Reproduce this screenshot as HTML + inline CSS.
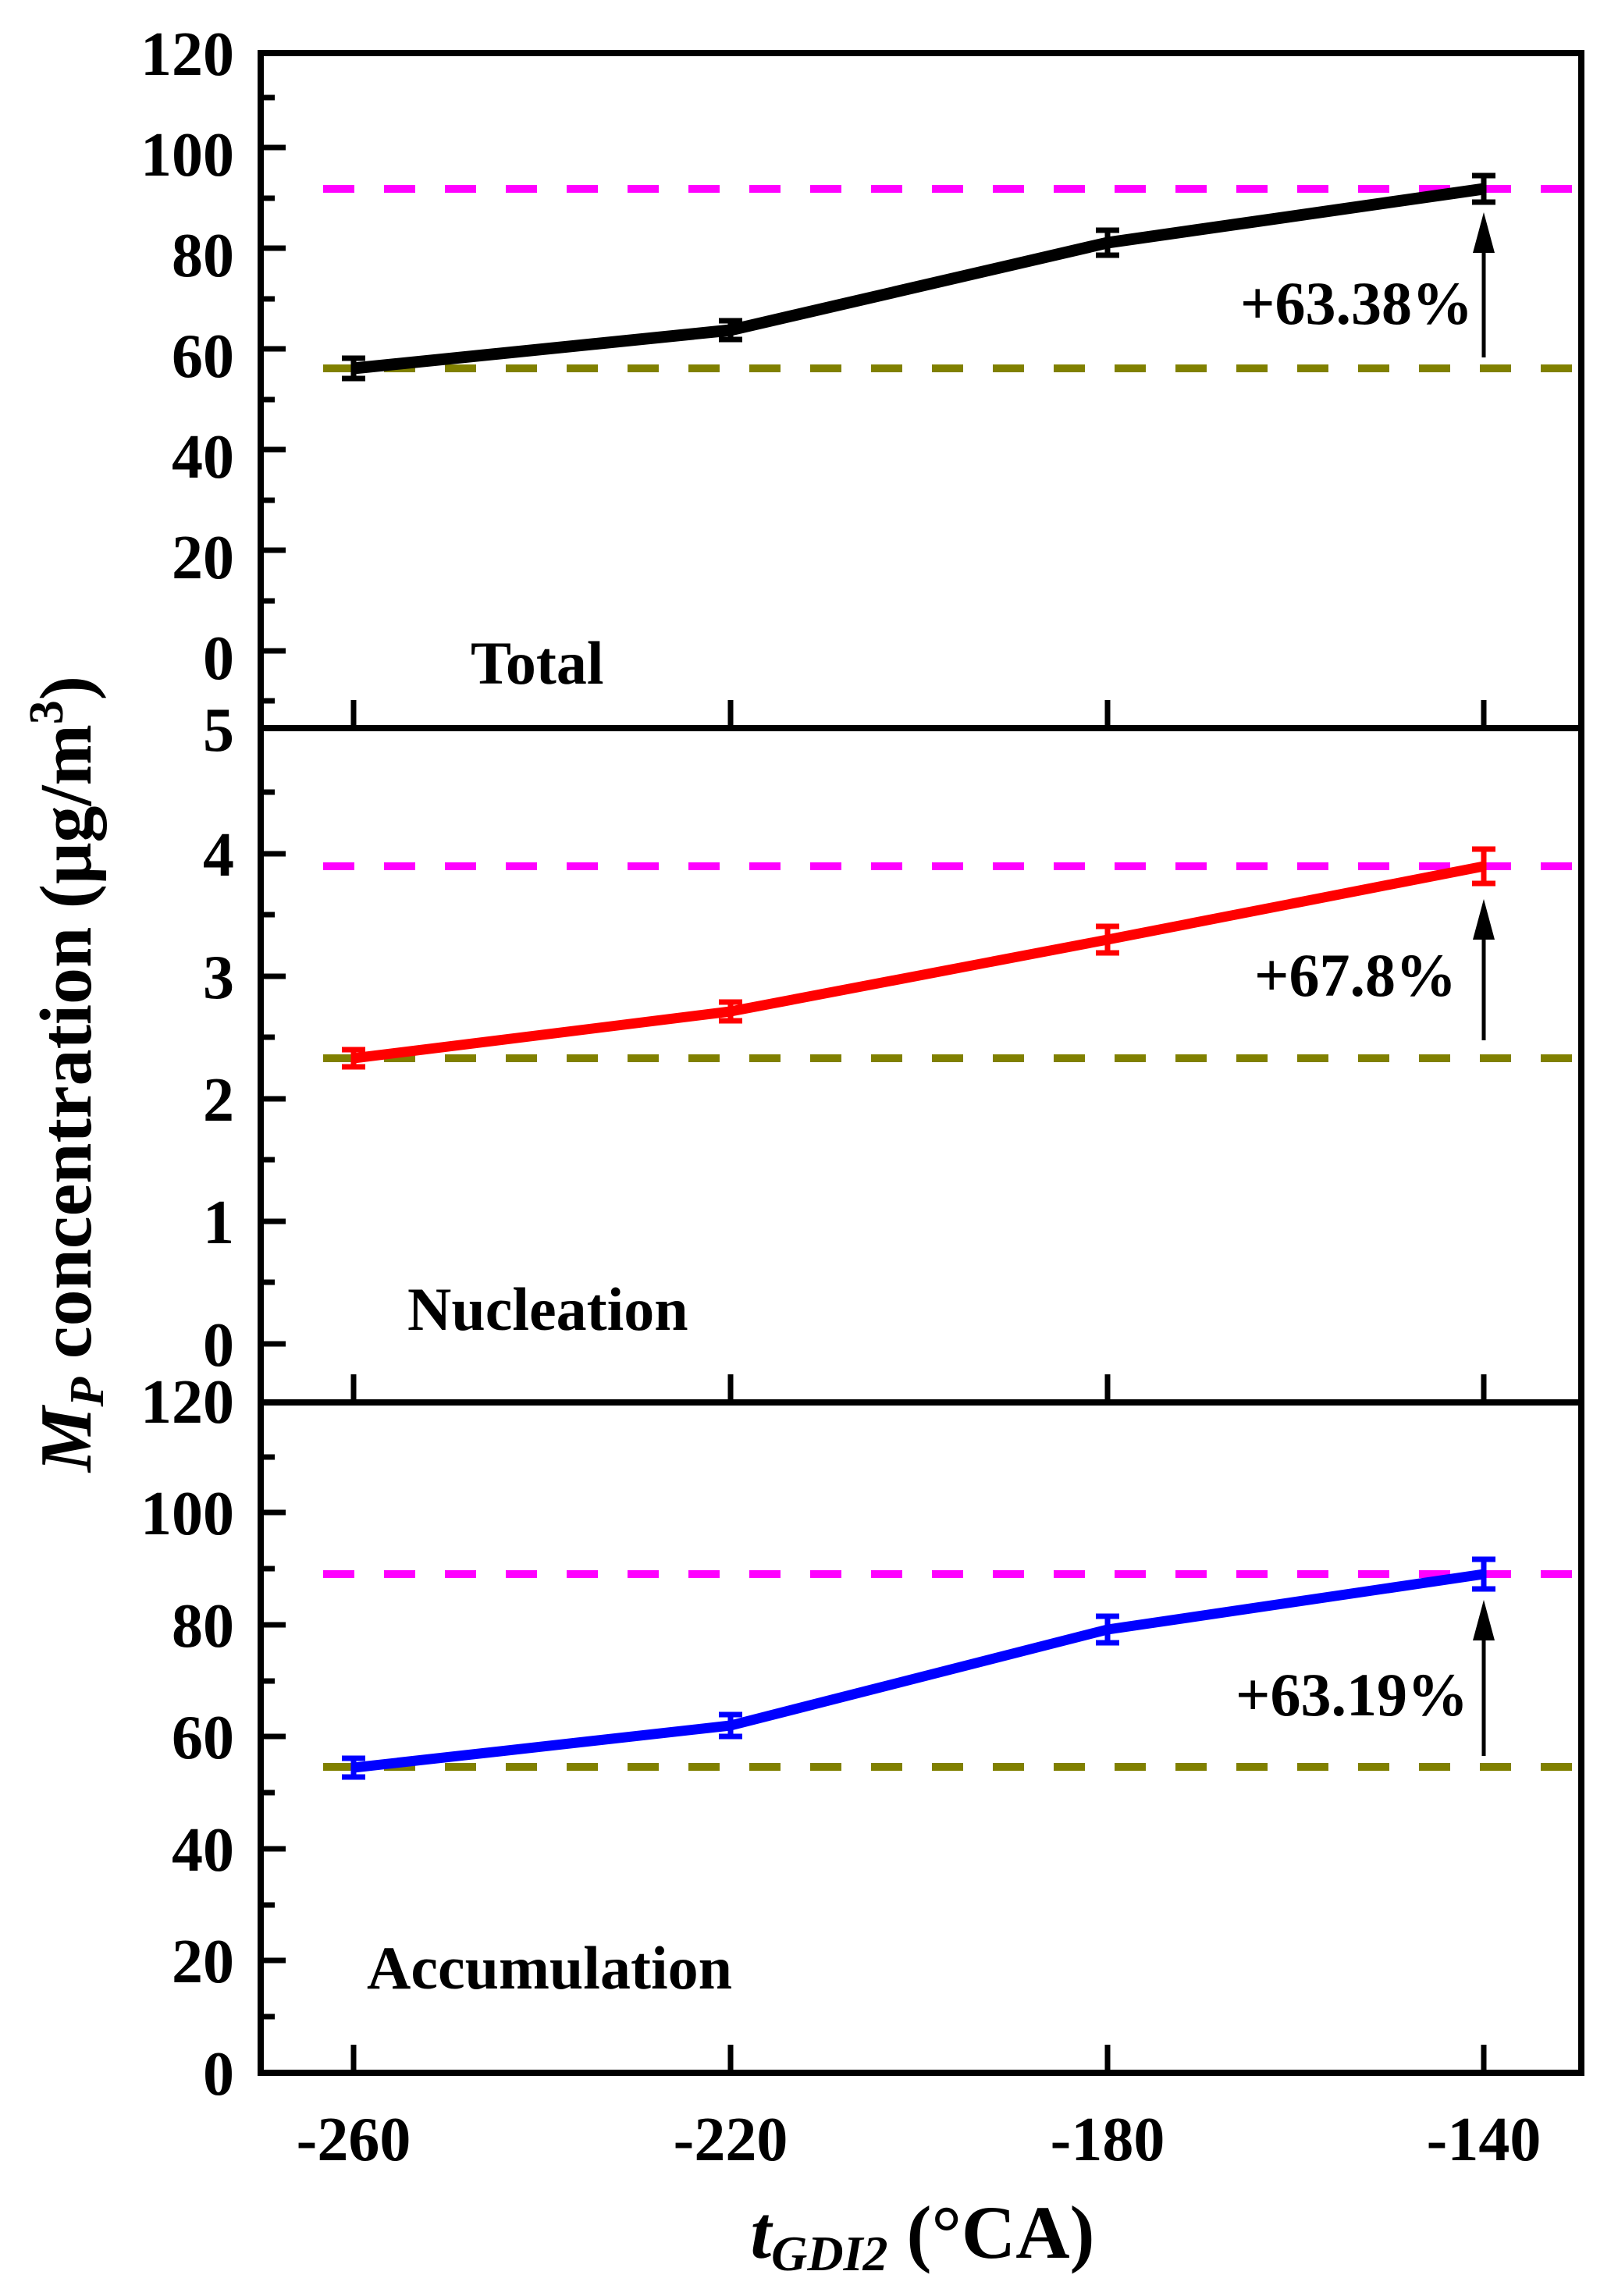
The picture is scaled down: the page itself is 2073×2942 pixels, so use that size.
<!DOCTYPE html>
<html><head><meta charset="utf-8"><style>html,body{margin:0;padding:0;background:#fff}svg{display:block}</style></head>
<body>
<svg width="2073" height="2942" viewBox="0 0 2073 2942" xmlns="http://www.w3.org/2000/svg" font-family="Liberation Serif, serif" font-weight="bold">
<g stroke="#000" stroke-width="8" fill="none">
<rect x="334" y="68" width="1692" height="2588"/>
<line x1="334" y1="933" x2="2026" y2="933"/>
<line x1="334" y1="1797" x2="2026" y2="1797"/>
</g>
<g stroke="#000" stroke-width="7">
<line x1="334" x2="366" y1="834" y2="834"/><line x1="334" x2="366" y1="705" y2="705"/><line x1="334" x2="366" y1="576" y2="576"/><line x1="334" x2="366" y1="447" y2="447"/><line x1="334" x2="366" y1="318" y2="318"/><line x1="334" x2="366" y1="189" y2="189"/>
<line x1="334" x2="352" y1="898" y2="898"/><line x1="334" x2="352" y1="770" y2="770"/><line x1="334" x2="352" y1="641" y2="641"/><line x1="334" x2="352" y1="512" y2="512"/><line x1="334" x2="352" y1="383" y2="383"/><line x1="334" x2="352" y1="254" y2="254"/><line x1="334" x2="352" y1="125" y2="125"/>
<line x1="334" x2="366" y1="1722" y2="1722"/><line x1="334" x2="366" y1="1565" y2="1565"/><line x1="334" x2="366" y1="1408" y2="1408"/><line x1="334" x2="366" y1="1251" y2="1251"/><line x1="334" x2="366" y1="1094" y2="1094"/>
<line x1="334" x2="352" y1="1643" y2="1643"/><line x1="334" x2="352" y1="1486" y2="1486"/><line x1="334" x2="352" y1="1329" y2="1329"/><line x1="334" x2="352" y1="1172" y2="1172"/><line x1="334" x2="352" y1="1015" y2="1015"/>
<line x1="334" x2="366" y1="2512" y2="2512"/><line x1="334" x2="366" y1="2369" y2="2369"/><line x1="334" x2="366" y1="2225" y2="2225"/><line x1="334" x2="366" y1="2082" y2="2082"/><line x1="334" x2="366" y1="1938" y2="1938"/>
<line x1="334" x2="352" y1="2584" y2="2584"/><line x1="334" x2="352" y1="2441" y2="2441"/><line x1="334" x2="352" y1="2297" y2="2297"/><line x1="334" x2="352" y1="2154" y2="2154"/><line x1="334" x2="352" y1="2010" y2="2010"/><line x1="334" x2="352" y1="1867" y2="1867"/>
<line x1="453" x2="453" y1="897" y2="933"/><line x1="936" x2="936" y1="897" y2="933"/><line x1="1419" x2="1419" y1="897" y2="933"/><line x1="1901" x2="1901" y1="897" y2="933"/>
<line x1="453" x2="453" y1="1761" y2="1797"/><line x1="936" x2="936" y1="1761" y2="1797"/><line x1="1419" x2="1419" y1="1761" y2="1797"/><line x1="1901" x2="1901" y1="1761" y2="1797"/>
<line x1="453" x2="453" y1="2620" y2="2656"/><line x1="936" x2="936" y1="2620" y2="2656"/><line x1="1419" x2="1419" y1="2620" y2="2656"/><line x1="1901" x2="1901" y1="2620" y2="2656"/>
</g>
<g stroke-width="10" stroke-dasharray="40 38" fill="none">
<line x1="414" x2="2024" y1="242" y2="242" stroke="#ff00ff"/>
<line x1="414" x2="2024" y1="472" y2="472" stroke="#808000"/>
<line x1="414" x2="2024" y1="1110" y2="1110" stroke="#ff00ff"/>
<line x1="414" x2="2024" y1="1356" y2="1356" stroke="#808000"/>
<line x1="414" x2="2024" y1="2017" y2="2017" stroke="#ff00ff"/>
<line x1="414" x2="2024" y1="2264" y2="2264" stroke="#808000"/>
</g>
<polyline points="453,472 936,423 1419,311 1901,242" stroke="#000" stroke-width="15" fill="none" stroke-linejoin="round"/>
<polyline points="453,1356 936,1296 1419,1204 1901,1110" stroke="#ff0000" stroke-width="13" fill="none" stroke-linejoin="round"/>
<polyline points="453,2265 936,2211 1419,2088 1901,2017" stroke="#0000ff" stroke-width="13" fill="none" stroke-linejoin="round"/>
<g stroke="#000" stroke-width="7" fill="none">
<path d="M453,459V485M438,459H468M438,485H468 M936,411V435M921,411H951M921,435H951 M1419,295V327M1404,295H1434M1404,327H1434 M1901,225V259M1886,225H1916M1886,259H1916"/>
</g>
<g stroke="#ff0000" stroke-width="7" fill="none">
<path d="M453,1345V1367M438,1345H468M438,1367H468 M936,1284V1308M921,1284H951M921,1308H951 M1419,1187V1221M1404,1187H1434M1404,1221H1434 M1901,1088V1132M1886,1088H1916M1886,1132H1916"/>
</g>
<g stroke="#0000ff" stroke-width="7" fill="none">
<path d="M453,2253V2277M438,2253H468M438,2277H468 M936,2197V2225M921,2197H951M921,2225H951 M1419,2071V2105M1404,2071H1434M1404,2105H1434 M1901,1998V2036M1886,1998H1916M1886,2036H1916"/>
</g>
<g stroke="#000" stroke-width="5">
<line x1="1901" x2="1901" y1="458" y2="310"/>
<line x1="1901" x2="1901" y1="1333" y2="1190"/>
<line x1="1901" x2="1901" y1="2250" y2="2090"/>
</g>
<g fill="#000">
<path d="M1887,324 L1901,272 L1915,324Z"/>
<path d="M1887,1204 L1901,1152 L1915,1204Z"/>
<path d="M1887,2102 L1901,2050 L1915,2102Z"/>
</g>
<g font-size="80" text-anchor="end">
<text x="300" y="96">120</text><text x="300" y="225">100</text><text x="300" y="354">80</text><text x="300" y="483">60</text><text x="300" y="612">40</text><text x="300" y="741">20</text><text x="300" y="870">0</text>
<text x="300" y="962">5</text><text x="300" y="1122">4</text><text x="300" y="1279">3</text><text x="300" y="1436">2</text><text x="300" y="1593">1</text><text x="300" y="1750">0</text>
<text x="300" y="1823">120</text><text x="300" y="1966">100</text><text x="300" y="2110">80</text><text x="300" y="2253">60</text><text x="300" y="2397">40</text><text x="300" y="2540">20</text><text x="300" y="2684">0</text>
</g>
<g font-size="80" text-anchor="middle">
<text x="453" y="2768">-260</text><text x="936" y="2768">-220</text><text x="1419" y="2768">-180</text><text x="1901" y="2768">-140</text>
</g>
<g font-size="78">
<text x="603" y="876">Total</text>
<text x="522" y="1704">Nucleation</text>
<text x="470" y="2548">Accumulation</text>
<text x="1589" y="415">+63.38%</text>
<text x="1607" y="1276">+67.8%</text>
<text x="1583" y="2198">+63.19%</text>
</g>
<text x="1182" y="2893" font-size="96" text-anchor="middle"><tspan font-style="italic">t</tspan><tspan font-style="italic" font-size="64" dy="16">GDI2</tspan><tspan dy="-16"> (°CA)</tspan></text>
<text transform="translate(116,1376) rotate(-90)" font-size="94" text-anchor="middle"><tspan font-style="italic">M</tspan><tspan font-style="italic" font-size="62" dy="16">P</tspan><tspan dy="-16">  concentration (μg/m</tspan><tspan font-size="62" dy="-36">3</tspan><tspan dy="36">)</tspan></text>
</svg>
</body></html>
